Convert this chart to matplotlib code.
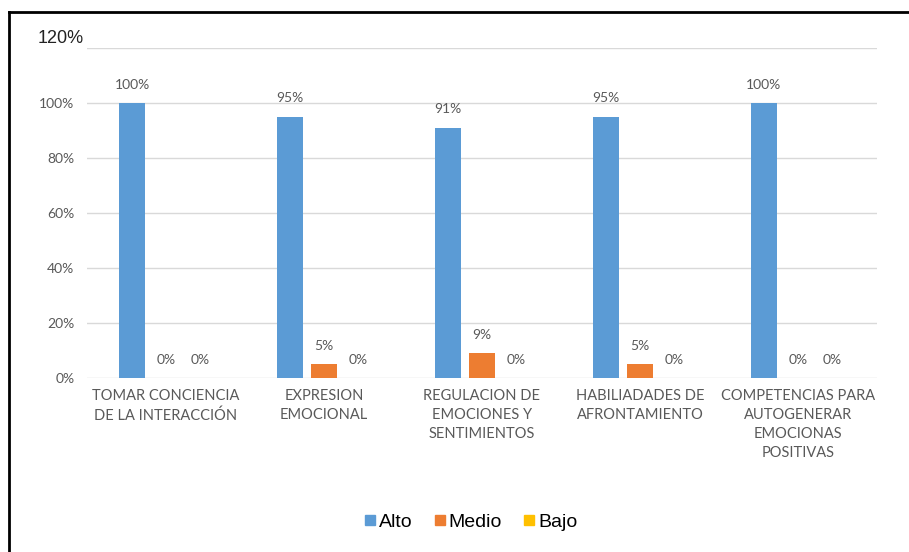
import numpy as np
import matplotlib.pyplot as plt
from matplotlib.lines import Line2D

categories = [
    "TOMAR CONCIENCIA\nDE LA INTERACCIÓN",
    "EXPRESION\nEMOCIONAL",
    "REGULACION DE\nEMOCIONES Y\nSENTIMIENTOS",
    "HABILIADADES DE\nAFRONTAMIENTO",
    "COMPETENCIAS PARA\nAUTOGENERAR\nEMOCIONAS\nPOSITIVAS",
]
series = ["Alto", "Medio", "Bajo"]
alto = [1.00, 0.95, 0.91, 0.95, 1.00]
medio = [0.00, 0.05, 0.09, 0.05, 0.00]
bajo = [0.00, 0.00, 0.00, 0.00, 0.00]
yticks = [0.0, 0.2, 0.4, 0.6, 0.8, 1.0]
ytick_labels = ["0%", "20%", "40%", "60%", "80%", "100%"]

colors = ["#5B9BD5", "#ED7D31", "#FFC000"]
grey = "#595959"
label_font = ["Liberation Sans Narrow", "Lato", "DejaVu Sans"]

fig = plt.figure(figsize=(9.09, 5.52), dpi=100)
ax = fig.add_axes([0.0957, 0.315, 0.869, 0.598])

x = np.arange(len(categories))
width = 0.17
step = 0.215
for i, (name, vals) in enumerate(zip(series, [alto, medio, bajo])):
    pos = x + (i - 1) * step
    ax.bar(pos, vals, width, color=colors[i], label=name, zorder=3)
    for px, v in zip(pos, vals):
        ax.text(px, v + 0.045, f"{v * 100:.0f}%", ha="center", va="bottom",
                fontsize=10, color=grey, family=label_font)

ax.set_xlim(-0.5, len(categories) - 0.5)
ax.set_ylim(0, 1.2)
ax.set_yticks(yticks + [1.2])
ax.set_yticklabels(ytick_labels + [""], fontsize=10, color=grey, family=label_font)
ax.yaxis.grid(True, color="#D9D9D9", linewidth=1, zorder=0)
ax.set_xticks(x)
ax.set_xticklabels(categories, fontsize=10.5, color=grey, family=label_font,
                   linespacing=1.45)
ax.tick_params(axis="both", length=0)
ax.tick_params(axis="x", pad=8)
ax.tick_params(axis="y", pad=9)
for s in ax.spines.values():
    s.set_visible(False)

# top label drawn larger, as in the source image
fig.text(0.041, 0.93, "120%", fontsize=13, color="#222222", ha="left", va="center",
         family=["Liberation Sans", "DejaVu Sans"])

handles = [Line2D([], [], marker="s", linestyle="", markersize=7,
                  markerfacecolor=c, markeredgecolor=c) for c in colors]
fig.legend(handles, series, loc="center", bbox_to_anchor=(0.517, 0.054), ncol=3,
           frameon=False, handletextpad=0.05, columnspacing=1.0,
           handlelength=0.8, prop={"family": ["Liberation Sans", "DejaVu Sans"], "size": 14})

# outer frame (left and top edges visible)
fig.add_artist(Line2D([0.01, 0.01], [0.0, 0.979], color="black", linewidth=2,
                      transform=fig.transFigure))
fig.add_artist(Line2D([0.01, 1.0], [0.979, 0.979], color="black", linewidth=2,
                      transform=fig.transFigure))

fig.savefig("out.png", dpi=100)
